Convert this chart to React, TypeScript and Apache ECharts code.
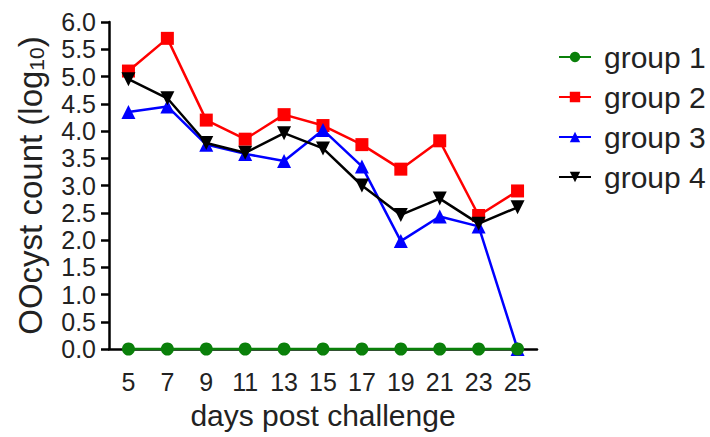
import React, { useEffect, useRef } from "react";
import * as echarts from "echarts";

const days = ["5", "7", "9", "11", "13", "15", "17", "19", "21", "23", "25"];
const group1 = [0, 0, 0, 0, 0, 0, 0, 0, 0, 0, 0];
const group2 = [5.1, 5.7, 4.2, 3.85, 4.3, 4.1, 3.75, 3.3, 3.82, 2.45, 2.9];
const group3 = [4.35, 4.45, 3.75, 3.58, 3.45, 4.02, 3.35, 1.98, 2.43, 2.25, 0];
const group4 = [4.95, 4.6, 3.78, 3.6, 3.96, 3.68, 3.0, 2.46, 2.76, 2.3, 2.6];
const yTicks = [0, 6];

const FONT = "'Liberation Sans', Arial, sans-serif";

export default function App() {
  const ref = useRef<HTMLDivElement>(null);
  useEffect(() => {
    if (!ref.current) return;
    const chart = echarts.init(ref.current, undefined, { renderer: "svg" });
    const mk = (name: string, data: number[], color: string, symbol: string, size: number, z: number) => ({
      name,
      type: "line",
      data,
      symbol,
      symbolSize: size,
      clip: false,
      z,
      itemStyle: { color },
      lineStyle: { color, width: 2.5 },
    });
    chart.setOption({
      animation: false,
      backgroundColor: "#ffffff",
      textStyle: { fontFamily: FONT },
      grid: { left: 109, top: 22, right: 173, bottom: 88, containLabel: false },
      legend: {
        orient: "vertical",
        left: 553,
        top: 37,
        itemWidth: 32,
        itemHeight: 13,
        itemGap: 10,
        textStyle: { fontFamily: FONT, fontSize: 30, color: "#222", lineHeight: 30, padding: [0, 0, 0, 8] },
        data: ["group 1", "group 2", "group 3", "group 4"],
      },
      xAxis: {
        type: "category",
        data: days,
        boundaryGap: true,
        axisLine: { lineStyle: { color: "#000", width: 2.5 } },
        axisTick: { show: false },
        axisLabel: { color: "#222", fontSize: 25, fontFamily: FONT, margin: 20, interval: 0 },
        name: "days post challenge",
        nameLocation: "middle",
        nameGap: 51,
        nameTextStyle: { color: "#222", fontSize: 30, fontFamily: FONT },
        splitLine: { show: false },
      },
      yAxis: {
        type: "value",
        min: yTicks[0],
        max: yTicks[1],
        interval: 0.5,
        axisLine: { show: true, lineStyle: { color: "#000", width: 2.5 } },
        axisTick: { show: true, length: 8, lineStyle: { color: "#000", width: 2.5 } },
        axisLabel: {
          color: "#222",
          fontSize: 25,
          fontFamily: FONT,
          margin: 13,
          formatter: (v: number) => v.toFixed(1),
        },
        splitLine: { show: false },
        name: "{a|OOcyst count (log}{b|10}{a|)}",
        nameLocation: "middle",
        nameRotate: 90,
        nameGap: 62,
        nameTextStyle: {
          rich: {
            a: { fontSize: 33, fontFamily: FONT, color: "#222" },
            b: { fontSize: 21, fontFamily: FONT, color: "#222", padding: [12, 0, 0, 0] },
          },
        },
      },
      series: [
        mk("group 2", group2, "#ff0000", "rect", 13, 2),
        mk("group 3", group3, "#0000ff", "triangle", 14, 3),
        mk("group 4", group4, "#000000", "path://M0,0 L10,0 L5,9 Z", 14, 4),
        mk("group 1", group1, "#0a800a", "circle", 13, 5),
      ],
    });
    return () => chart.dispose();
  }, []);
  return <div ref={ref} style={{ position: "fixed", left: 0, top: 0, width: 710, height: 437 }} />;
}
